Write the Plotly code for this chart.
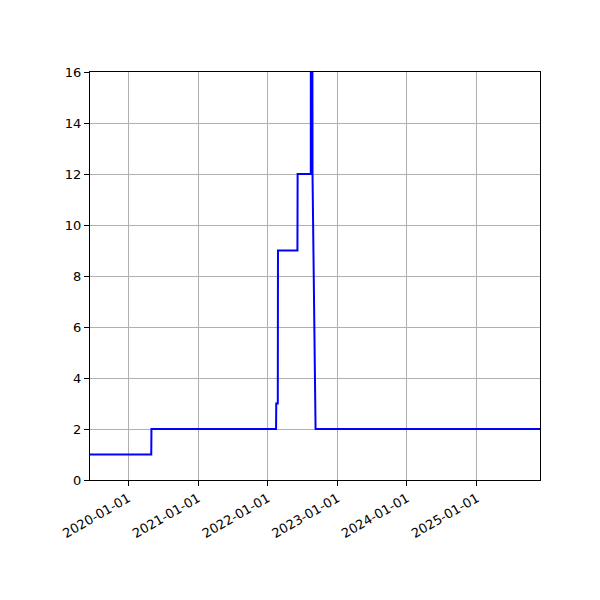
import plotly.graph_objects as go

# --- Data ---
dates = [
    "2019-06-15", "2020-05-01", "2020-05-02", "2022-02-14", "2022-02-15",
    "2022-02-23", "2022-02-24", "2022-06-06", "2022-06-07", "2022-08-15",
    "2022-08-18", "2022-08-21", "2022-08-24", "2022-09-09", "2025-11-28",
]
values = [1, 1, 2, 2, 3, 3, 9, 9, 12, 12, 60, 12, 12, 2, 2]

x_ticks = ["2020-01-01", "2021-01-01", "2022-01-01", "2023-01-01", "2024-01-01", "2025-01-01"]
y_ticks = [0, 2, 4, 6, 8, 10, 12, 14, 16]

fig = go.Figure()
fig.add_trace(go.Scatter(
    x=dates, y=values, mode="lines",
    line=dict(color="#0000ff", width=2),
    showlegend=False,
))

axis_style = dict(
    showline=True, linecolor="black", linewidth=1, mirror=True,
    ticks="outside", ticklen=5, tickcolor="black",
    showgrid=True, gridcolor="#b0b0b0", gridwidth=1,
    zeroline=False,
    tickfont=dict(family="DejaVu Sans", size=13, color="black"),
)

# page body adds a small offset, so margins are nudged to line the axes up
fig.update_layout(
    width=600, height=600,
    margin=dict(l=82, r=68, t=64, b=128),
    plot_bgcolor="white", paper_bgcolor="white",
    xaxis=dict(
        range=[dates[0], dates[-1]],
        tickvals=x_ticks, ticktext=x_ticks,
        tickangle=-30,
        **axis_style,
    ),
    yaxis=dict(
        range=[0, 16],
        tickvals=y_ticks,
        **axis_style,
    ),
)

fig.write_html("out.html")
